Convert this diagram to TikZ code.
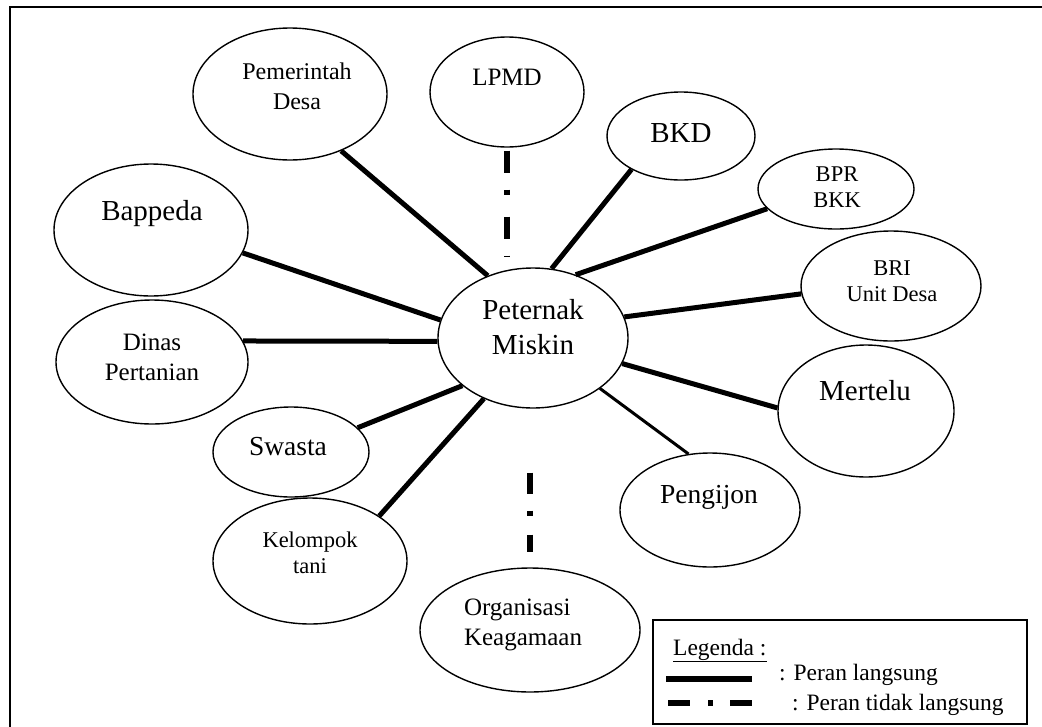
\documentclass[tikz,border=0pt]{standalone}
\usepackage{fontspec}
\setmainfont{Liberation Serif}
\usetikzlibrary{shapes.geometric}
\tikzset{
  ell/.style={draw, ellipse, line width=1.4pt, inner sep=0pt},
  lbl/.style={inner sep=0pt, align=center},
  direct/.style={line width=5pt},
  directthin/.style={line width=3pt},
  indirect/.style={line width=5.5pt, dash pattern=on 22pt off 17pt on 5pt off 22pt},
  indirectb/.style={line width=5.5pt, dash pattern=on 21pt off 17pt on 5pt off 19pt},
  indirectleg/.style={line width=5.5pt, dash pattern=on 22pt off 18pt on 5pt off 17pt},
  fA/.style={font=\fontsize{29}{35}\selectfont},
  fB/.style={font=\fontsize{27.5}{33}\selectfont},
  fC/.style={font=\fontsize{25}{30}\selectfont},
  fD/.style={font=\fontsize{22.5}{26}\selectfont},
  fP/.style={font=\fontsize{24}{30}\selectfont},
  fL/.style={font=\fontsize{23.5}{28}\selectfont},
}
\begin{document}
\begin{tikzpicture}[x=1pt, y=-1pt]
\useasboundingbox (0,0) rectangle (1042,726);
\draw[line width=2pt] (10,7) rectangle (1050,735);

% ellipses
\node[ell, minimum width=194pt, minimum height=132pt] (pemdes) at (290,94) {};
\node[ell, minimum width=154pt, minimum height=110pt] (lpmd) at (507,92) {};
\node[ell, minimum width=148pt, minimum height=88pt] (bkd) at (681,136) {};
\node[ell, minimum width=156pt, minimum height=80pt] (bpr) at (836,189) {};
\node[ell, minimum width=180pt, minimum height=110pt] (bri) at (891,286) {};
\node[ell, minimum width=176pt, minimum height=132pt] (mertelu) at (866,411) {};
\node[ell, minimum width=180pt, minimum height=114pt] (pengijon) at (710,510) {};
\node[ell, minimum width=220pt, minimum height=124pt] (org) at (530,630) {};
\node[ell, minimum width=194pt, minimum height=126pt] (kel) at (310,561) {};
\node[ell, minimum width=156pt, minimum height=90pt] (swasta) at (291,452) {};
\node[ell, minimum width=192pt, minimum height=124pt] (dinas) at (152,362) {};
\node[ell, minimum width=194pt, minimum height=132pt] (bappeda) at (151,230) {};
\node[ell, minimum width=190pt, minimum height=140pt] (pm) at (533,338) {};

% texts
\node[lbl, fP] (pemdes-t) at (297,86) {Pemerintah\\Desa};
\node[lbl, fC, anchor=base] (lpmd-t) at (507,85) {LPMD};
\node[lbl, fA, anchor=base] (bkd-t) at (681,142) {BKD};
\node[lbl, fD] (bpr-t) at (837,187) {BPR\\BKK};
\node[lbl, fD] (bri-t) at (892,281) {BRI\\Unit Desa};
\node[lbl, fA, anchor=base] (mertelu-t) at (865,400) {Mertelu};
\node[lbl, fB, anchor=base] (pengijon-t) at (709,503) {Pengijon};
\node[lbl, fC, align=left] (org-t) at (523,625) {Organisasi\\Keagamaan};
\node[lbl, fD] (kel-t) at (310,553) {Kelompok\\tani};
\node[lbl, fB, anchor=base] (swasta-t) at (288,455) {Swasta};
\node[lbl, fC] (dinas-t) at (152,357) {Dinas\\Pertanian};
\node[lbl, fA, anchor=base] (bappeda-t) at (152,220) {Bappeda};
\node[lbl, fA] (pm-t) at (533,327) {Peternak\\Miskin};

% direct connectors
\draw[direct] (pm.126) -- (pemdes.312);
\draw[direct] (pm.75) -- (bkd.214);
\draw[direct] (pm.56) -- (bpr.196);
\draw[direct] (pm.13) -- (bri.185);
\draw[direct] (pm.344) -- (mertelu.178);
\draw[directthin] (pm.323) -- (pengijon.111);
\draw[direct] (pm.169) -- (bappeda.346);
\draw[direct] (pm.182) -- (dinas.13);
\draw[direct] (pm.214) -- (swasta.20);
\draw[direct] (pm.231) -- (kel.33);

% indirect connectors
\path (lpmd.south) ++(0,3) coordinate (i1a);
\path (lpmd.south |- pm.north) ++(0,-11) coordinate (i1b);
\draw[indirect] (i1a) -- (i1b);
\path (pm.south -| org.north) ++(0,64) coordinate (i2a);
\path (org.north) ++(0,-15) coordinate (i2b);
\draw[indirectb] (i2a) -- (i2b);

% legend
\node[draw, line width=1.5pt, minimum width=374pt, minimum height=104pt, inner sep=0pt] (legbox) at (840,672) {};
\node[inner sep=0pt, fL, anchor=base west] (legtitle) at (673,655) {\underline{Legenda :}};
\coordinate (l1a) at (666,679);
\coordinate (l1b) at (752,679);
\draw[line width=6pt] (l1a) -- (l1b);
\node[inner sep=0pt, fL, anchor=base west] (l1t) at (779,680) {: Peran langsung};
\coordinate (l2a) at (668,703);
\coordinate (l2b) at (752,703);
\draw[indirectleg] (l2a) -- (l2b);
\node[inner sep=0pt, fL, anchor=base west] (l2t) at (792,710) {: Peran tidak langsung};
\end{tikzpicture}
\end{document}
